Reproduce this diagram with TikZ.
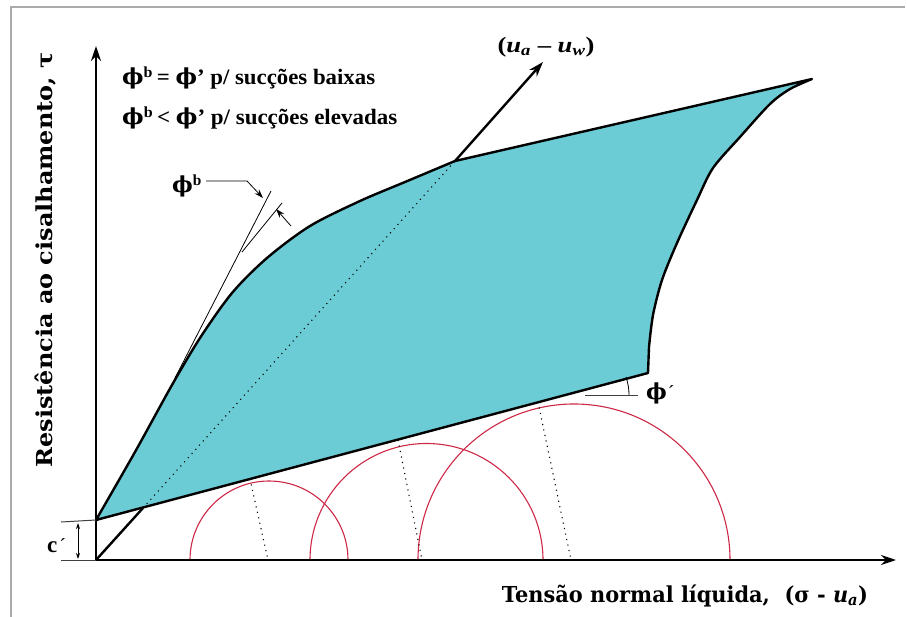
\documentclass[tikz,border=0pt]{standalone}
\usepackage{fontspec}
\usepackage{graphicx}
\setmainfont{Liberation Serif}
\newfontfamily\grk{DejaVu Serif}
\newfontfamily\axfont{DejaVu Serif}
\usetikzlibrary{arrows.meta}
\definecolor{cyanfill}{RGB}{108,204,214}
\definecolor{circred}{RGB}{205,40,70}
\definecolor{framegray}{RGB}{170,170,170}
\newcommand{\bphi}{{\grk\bfseries ϕ}}
\begin{document}
\begin{tikzpicture}[x=1pt,y=-1pt,
  axisline/.style={line width=2.4pt,-{Stealth[length=15pt,width=10pt]}},
  thickline/.style={line width=2.4pt},
  mohr/.style={circred,line width=1.1pt},
  dotline/.style={line width=1.1pt,dash pattern=on 1.1pt off 4.5pt},
  thinline/.style={line width=0.8pt},
  legendtext/.style={font=\bfseries\fontsize{22}{24}\selectfont, inner sep=0pt, anchor=west},
  axislabel/.style={font=\axfont\bfseries\fontsize{22}{24}\selectfont, inner sep=0pt}
]
\useasboundingbox (0,0) rectangle (907,617);
\draw[framegray,line width=1.5pt] (11,617) -- (11,7) -- (905,7);

\coordinate (O) at (96,560);
\coordinate (C) at (96,520);
\coordinate (P) at (648,373);
\coordinate (Q) at (649,347);
\coordinate (T) at (812,79);
\coordinate (J) at (455,161);
\coordinate (E) at (143,508);
\coordinate (S) at (543,62);

\filldraw[fill=cyanfill, line width=2.4pt, line join=round]
  (C) -- (P) -- (Q)
  -- plot[smooth] coordinates {(649,347) (653,315) (662,280) (677,243) (697,200) (713,168) (740,137) (770,104) (790,89) (812,79)}
  -- (J)
  -- plot[smooth] coordinates {(455,161) (405,182) (360,201) (310,226) (267,258) (232,293) (200,338) (172,385) (135,452) (96,520)}
  -- cycle;

\begin{scope}
  \clip (96,520) -- (900,306) -- (900,560) -- (96,560) -- cycle;
  \draw[mohr] (269,560) circle[radius=79pt];
  \draw[mohr] (426.5,560) circle[radius=116.5pt];
  \draw[mohr] (574,560) circle[radius=156pt];
\end{scope}
\draw[dotline] (250,479) -- (268,560);
\draw[dotline] (398,440) -- (422,560);
\draw[dotline] (538,402) -- (571,560);

\draw[axisline] (O) -- (96,46);
\draw[axisline] (O) -- (896,560);

\draw[line width=1pt, black!75] (61,522) -- (C);
\draw[line width=1pt, black!75] (61,560) -- (O);
\draw[line width=0.9pt, {Stealth[length=6pt,width=4pt]}-{Stealth[length=6pt,width=4pt]}] (78,523) -- (78,559);
\node[font=\bfseries\fontsize{23}{24}\selectfont, inner sep=0pt, anchor=base west] (clbl) at (47,552) {c\kern2pt{\mdseries\fontsize{20}{22}\selectfont ´}};

\draw[thickline] (O) -- (E);
\draw[dotline] (E) -- (J);
\draw[thickline, -{Stealth[length=15pt,width=10pt]}] (J) -- (S);
\node[font=\bfseries\fontsize{22}{24}\selectfont, inner sep=0pt] (uauw) at (546,47) {\resizebox{97pt}{\height}{(\textit{u}\textsubscript{\textit{a}} – \textit{u}\textsubscript{\textit{w}})}};

\draw[thinline] (175,378) -- (271,191);
\draw[thinline] (242,252) -- (282,203);
\node[inner sep=0pt, font=\bfseries\fontsize{22}{24}\selectfont] (phib) at (187,186) {\bphi\textsuperscript{b}};
\coordinate (pb1) at (206,181);
\coordinate (pb2) at (247,181);
\draw[thinline, -{Stealth[length=9pt,width=6pt]}] (pb1) -- (pb2) -- (263,198);
\draw[thinline, -{Stealth[length=9pt,width=6pt]}] (291,226) -- (276,209);

\draw[thinline, black!75] (585,395) -- (638,395);
\draw[thinline] (629,395) .. controls (629,389) and (628,383) .. (626,377);
\node[inner sep=0pt, anchor=west, font=\bfseries\fontsize{22}{24}\selectfont] (phip) at (646,393) {\bphi\kern1pt{\mdseries\fontsize{20}{22}\selectfont ´}};

\node[legendtext] (t1) at (122,78) {\resizebox{253pt}{\height}{\bphi\textsuperscript{b}\,= \bphi’ p/ sucções baixas}};
\node[legendtext] (t2) at (122,118) {\resizebox{275pt}{\height}{\bphi\textsuperscript{b}\,< \bphi’ p/ sucções elevadas}};

\node[axislabel, rotate=90] (ylbl) at (46,260) {\resizebox{415pt}{\height}{Resistência ao cisalhamento, τ}};
\node[axislabel] (xlbl) at (685,596) {\resizebox{366pt}{\height}{Tensão normal líquida,\ \ (σ - \textit{u}\textsubscript{\textit{a}})}};
\end{tikzpicture}
\end{document}
